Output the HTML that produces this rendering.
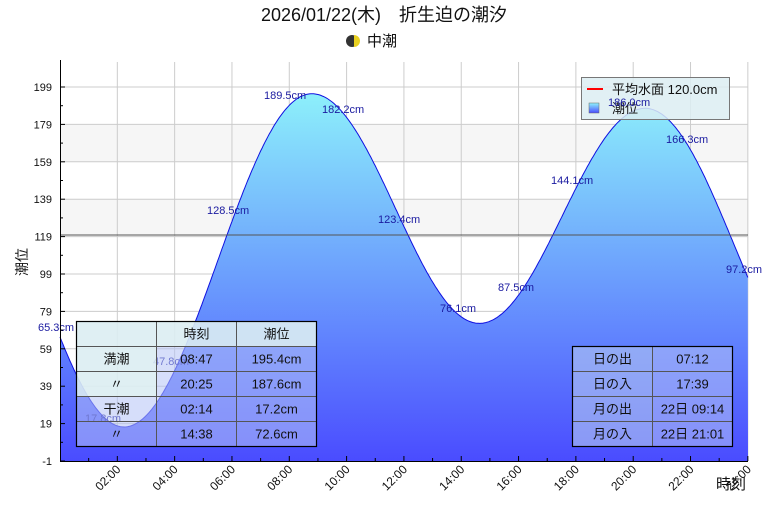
<!DOCTYPE html>
<html><head><meta charset="utf-8"><style>
body{margin:0;background:#fff;width:768px;height:512px;overflow:hidden}
svg{display:block;font-family:"Liberation Sans","Noto Sans CJK JP",sans-serif}
</style></head><body>
<svg id="s" width="768" height="512" xmlns="http://www.w3.org/2000/svg">
<defs>
<linearGradient id="g" x1="0" y1="87" x2="0" y2="461" gradientUnits="userSpaceOnUse">
<stop offset="0" stop-color="#8ef3fb"/><stop offset="1" stop-color="#4a4cff"/></linearGradient>
<linearGradient id="lg" x1="0" y1="0" x2="0" y2="1"><stop offset="0" stop-color="#8ef3fb"/><stop offset="1" stop-color="#4a4cff"/></linearGradient>
</defs>
<rect x="60" y="62" width="688" height="399" fill="#fff"/>
<g id="grid"></g>
<path id="area" fill="url(#g)" stroke="none"/>
<path id="line" fill="none" stroke="#1010e0" stroke-width="1"/>
<line x1="60" x2="748" y1="235" y2="235" stroke="#555" stroke-width="1"/>
<g>
<rect x="581.5" y="77.5" width="148" height="42" fill="rgba(220,237,242,0.85)" stroke="#777"/>
<line x1="587" x2="603" y1="89" y2="89" stroke="#f00" stroke-width="2"/>
<text x="612" y="94" font-size="13" fill="#111">平均水面 120.0cm</text>
<rect x="589" y="103" width="10" height="10" fill="url(#lg)" stroke="#666" stroke-width="0.5"/>
<text x="612" y="113" font-size="13" fill="#111">潮位</text>
</g>
<g id="labs" font-size="11" fill="#1a1aa0"></g>
<g id="axes"></g>
<text x="384" y="21" font-size="18" text-anchor="middle" fill="#111">2026/01/22(木)　折生迫の潮汐</text>
<circle cx="352" cy="41" r="6" fill="#333"/><path d="M354 35 A6 6 0 0 1 354 47" fill="#e8d020"/>
<text x="367" y="46" font-size="15" fill="#111">中潮</text>
<text transform="translate(27,262) rotate(-90)" font-size="14" text-anchor="middle" fill="#111">潮位</text>
<text x="716" y="489" font-size="15" fill="#111">時刻</text>
<g id="t1" font-size="13" fill="#111" text-anchor="middle"></g>
</svg>
<script>
const NS="http://www.w3.org/2000/svg";
function el(p,t,a,txt){const e=document.createElementNS(NS,t);for(const k in a)e.setAttribute(k,a[k]);if(txt!=null)e.textContent=txt;document.getElementById(p).appendChild(e);return e;}
const X=t=>60+t*28.66, Y=v=>461-(v+1)*1.87;
for(let i=0;i<10;i++){const v=-1+20*i;if(i==6||i==8)el('grid','rect',{x:60,y:Y(v+20),width:688,height:37.4,fill:'#f6f6f6'});}
for(let i=1;i<=10;i++){const v=-1+20*i;el('grid','line',{x1:60,x2:748,y1:Y(v),y2:Y(v),stroke:'#ccc'});}
for(let h=2;h<=24;h+=2)el('grid','line',{x1:X(h),x2:X(h),y1:62,y2:461,stroke:'#ccc'});
const ext=[[-4.0,0],[2.233,17.2],[8.783,195.4],[14.633,72.6],[20.417,187.6],[26.6,0]];
function f(t,e){for(let i=0;i<e.length-1;i++){const [t0,v0]=e[i],[t1,v1]=e[i+1];if(t>=t0&&t<=t1){const p=(t-t0)/(t1-t0);return v0+(v1-v0)*(1-Math.cos(Math.PI*p))/2;}}return 0;}
{const p=(0+4)/(6.233);const c=(1-Math.cos(Math.PI*p))/2;ext[0][1]=(65.3-17.2*c)/(1-c);}
{const p=(24-20.417)/(6.183);const c=(1-Math.cos(Math.PI*p))/2;ext[5][1]=(97.2-187.6*(1-c))/c;}
let d='';for(let t=0;t<=24.0001;t+=0.05){d+=(t==0?'M':'L')+X(t).toFixed(1)+' '+Y(f(t,ext)).toFixed(1);}
document.getElementById('line').setAttribute('d',d);
document.getElementById('area').setAttribute('d',d+'L748 461L60 461Z');
[[38,331,'65.3cm'],[85,422,'17.8cm'],[153,365,'47.8cm'],[207,214,'128.5cm'],[264,99,'189.5cm'],[322,113,'182.2cm'],[378,223,'123.4cm'],[440,312,'76.1cm'],[498,291,'87.5cm'],[551,184,'144.1cm'],[608,106,'186.0cm'],[666,143,'166.3cm'],[726,273,'97.2cm']].forEach(a=>el('labs','text',{x:a[0],y:a[1]},a[2]));
el('axes','line',{x1:60.5,x2:60.5,y1:60,y2:462,stroke:'#000'});
el('axes','line',{x1:60,x2:748,y1:461.5,y2:461.5,stroke:'#000'});
for(let i=0;i<=10;i++){const v=-1+20*i;el('axes','line',{x1:60,x2:65,y1:Y(v),y2:Y(v),stroke:'#000'});el('axes','text',{x:52,y:Y(v)+4,'font-size':11,'text-anchor':'end',fill:'#111'},String(v));if(i<10)el('axes','line',{x1:60,x2:63,y1:Y(v+10),y2:Y(v+10),stroke:'#000'});}
for(let h=1;h<=24;h++){const x=X(h);el('axes','line',{x1:x,x2:x,y1:461,y2:h%2?458:456,stroke:'#000'});if(h%2==0){const s=(h<10?'0':'')+h+':00';el('axes','text',{transform:`translate(${x+4},${470}) rotate(-45)`,'font-size':12,'text-anchor':'end',fill:'#111'},s);}}
function table(x0,y0,cw,rows,hdr){const g='t1';const n=rows.length,rh=25,W=cw*rows[0].length;
 for(let r=0;r<n;r++)for(let c=0;c<rows[0].length;c++){let fill=(hdr&&(r==0||c==0))?'rgba(220,237,242,0.9)':'rgba(180,195,245,0.55)';if(hdr&&c==0&&r>=3)fill='rgba(180,195,245,0.55)';if(!hdr&&c==0)fill='rgba(180,200,240,0.6)';
  el(g,'rect',{x:x0+c*cw,y:y0+r*rh,width:cw,height:rh,fill:fill,stroke:'#555','stroke-width':1});
  el(g,'text',{x:x0+c*cw+cw/2,y:y0+r*rh+17},rows[r][c]);}
 el(g,'rect',{x:x0,y:y0,width:W,height:n*rh,fill:'none',stroke:'#000','stroke-width':1.2});}
table(76.5,321.5,80,[['','時刻','潮位'],['満潮','08:47','195.4cm'],['〃','20:25','187.6cm'],['干潮','02:14','17.2cm'],['〃','14:38','72.6cm']],true);
table(572.5,346.5,80,[['日の出','07:12'],['日の入','17:39'],['月の出','22日 09:14'],['月の入','22日 21:01']],false);
</script>
</body></html>
